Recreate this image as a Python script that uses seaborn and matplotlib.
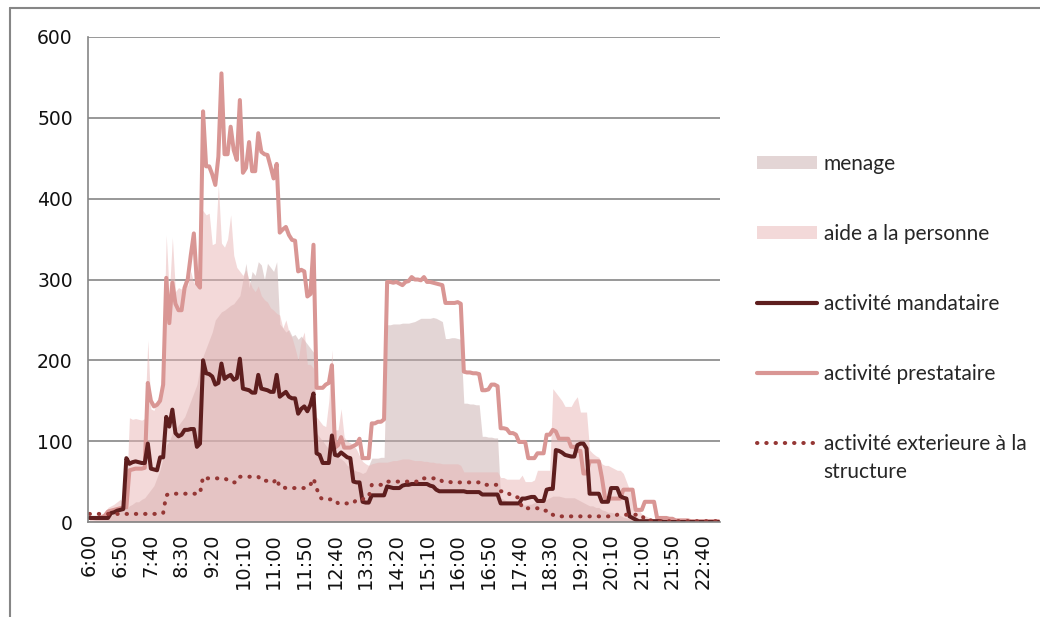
import pandas as pd
import matplotlib
matplotlib.use("Agg")
import matplotlib.pyplot as plt
import seaborn as sns
from matplotlib.lines import Line2D
from matplotlib.patches import Patch

# 5 minute slots, 6:00 -> 23:05
times = [f"{(360 + 5 * k) // 60}:{(360 + 5 * k) % 60:02d}" for k in range(206)]

menage = [2, 2, 3, 3, 4, 5, 6, 8, 10, 12, 14, 15, 16,
          20, 22, 25, 25, 28, 30,
          35, 40, 45, 55, 65, 80,
          95, 100, 110, 115, 120, 125, 130, 140, 150, 160, 170, 190,
          205, 215, 225, 235, 250, 255, 260, 262, 265, 268, 270, 275,
          280, 300, 320, 290, 310, 305, 322, 318, 300, 320, 315, 310, 322,
          245, 240, 235, 238, 230, 232, 226, 230, 225, 220, 215, 210,
          110, 105, 100, 95, 90, 90, 85, 80, 78, 75, 70, 68,
          65, 63, 62, 60, 62, 70, 79, 79, 79, 80, 80,
          244, 244, 245, 245, 245, 246, 246, 246, 247, 248, 250, 252, 252,
          252, 252, 253, 252, 250, 248, 227, 227, 228, 228, 227, 226,
          147, 147, 146, 146, 145, 145, 106, 106, 105, 105, 104, 104,
          30, 28, 26, 25, 22, 22, 21, 21, 21, 22, 22, 24,
          25, 26, 28, 28, 30, 32, 32, 32, 31, 30, 30, 30,
          30, 28, 26, 24, 22, 20, 20, 18, 18, 15, 14, 12,
          12, 11, 10, 8, 6, 5, 4, 3, 2, 1, 1, 0,
          0, 0, 0, 0, 0, 0, 0, 0, 0, 0, 0, 0,
          0, 0, 0, 0, 0, 0, 0, 0, 0, 0, 0, 0]

aide = [3, 3, 4, 5, 8, 10,
        18, 20, 22, 25, 28, 25, 30,
        129, 127, 128, 127, 126, 128,
        225, 140, 138, 150, 160, 200,
        355, 281, 352, 285, 290, 288, 300, 292, 310, 295, 300, 386,
        385, 380, 382, 343, 345, 417, 345, 340, 350, 380, 330, 315,
        310, 305, 312, 300, 290, 285, 292, 280, 275, 272, 265, 262, 258,
        256, 240, 250, 235, 228, 215, 200, 225, 235, 195, 195, 190,
        130, 125, 120, 118, 150, 213, 114, 114, 140, 105, 100, 98,
        95, 90, 82, 75, 72, 70, 72, 73, 74, 74, 74,
        74, 75, 76, 76, 77, 78, 78, 78, 77, 76, 76, 76, 75,
        75, 74, 74, 73, 73, 72, 72, 72, 72, 72, 72, 70,
        62, 62, 62, 62, 62, 62, 62, 62, 62, 62, 62, 62,
        55, 55, 53, 53, 53, 53, 53, 58, 50, 50, 50, 52,
        64, 64, 64, 64, 64, 165, 160, 155, 150, 143, 143, 143,
        150, 155, 136, 136, 136, 89, 85, 82, 80, 72, 70, 70,
        68, 66, 64, 64, 60, 50, 40, 30, 20, 15, 10, 8,
        6, 5, 4, 3, 2, 2, 2, 1, 1, 1, 1, 1,
        0, 0, 0, 0, 0, 0, 0, 0, 0, 0, 0, 0]

mandataire = [5, 5, 5, 5, 5, 5, 5,
              11, 12, 14, 15, 16, 79,
              72, 74, 75, 74, 73, 73,
              97, 66, 65, 64, 80, 80,
              130, 118, 139, 110, 106, 108, 114, 114, 115, 115, 93, 97,
              200, 184, 183, 180, 170, 172, 196, 177, 180, 182, 176, 178,
              202, 165, 164, 163, 160, 160, 182, 165, 164, 163, 161, 161, 182,
              155, 158, 161, 155, 153, 153, 134, 140, 143, 137, 145, 159,
              85, 83, 73, 73, 73, 107, 83, 82, 86, 83, 80, 79,
              50, 49, 49, 25, 24, 24, 33, 33, 33, 33, 33,
              44, 43, 42, 42, 42, 45, 46, 46, 47, 47, 47, 47, 47,
              47, 45, 44, 40, 38, 38, 38, 38, 38, 38, 38, 38,
              38, 37, 37, 37, 37, 37, 34, 34, 34, 34, 34, 34,
              23, 23, 23, 23, 23, 23, 23, 29, 29, 30, 31, 31,
              26, 26, 26, 40, 41, 41, 89, 88, 86, 83, 82, 81,
              81, 95, 97, 97, 91, 35, 35, 35, 35, 25, 25, 25,
              42, 42, 42, 32, 30, 29, 7, 5, 3, 1, 1, 1,
              1, 1, 1, 1, 1, 0, 0, 0, 0, 0, 0, 0,
              0, 0, 0, 0, 0, 0, 0, 0, 0, 0, 0, 0]

prestataire = [5, 5, 5, 5, 6, 8,
               13, 14, 15, 16, 17, 18, 18,
               64, 65, 66, 66, 66, 67,
               172, 150, 143, 145, 150, 170,
               302, 246, 296, 270, 262, 262, 290, 300, 330, 357, 295, 290,
               508, 440, 440, 430, 417, 452, 555, 455, 455, 489, 460, 448,
               522, 432, 438, 470, 434, 434, 481, 458, 455, 454, 440, 425, 443,
               358, 362, 365, 355, 349, 348, 310, 312, 310, 279, 282, 343,
               166, 166, 166, 170, 172, 194, 92, 95, 105, 92, 92, 92,
               94, 96, 103, 79, 79, 79, 122, 122, 124, 124, 127,
               297, 297, 296, 297, 295, 293, 297, 298, 303, 300, 300, 299, 303,
               297, 297, 296, 295, 294, 293, 271, 271, 271, 271, 272, 270,
               186, 185, 185, 184, 184, 183, 163, 163, 164, 170, 170, 168,
               116, 116, 115, 110, 110, 108, 99, 99, 99, 79, 79, 79,
               85, 85, 85, 108, 108, 114, 112, 103, 103, 103, 103, 93,
               93, 88, 88, 60, 60, 75, 75, 75, 75, 55, 30, 29,
               29, 29, 29, 29, 40, 40, 40, 40, 15, 15, 15, 25,
               25, 25, 25, 5, 5, 5, 5, 4, 4, 2, 2, 2,
               2, 2, 1, 1, 1, 1, 1, 1, 1, 1, 1, 1]

exterieure = [10, 10, 10, 10, 10, 10, 10, 10, 10, 10, 10, 10,
              10, 10, 10, 10, 10, 10, 10, 10, 10, 10, 10, 10, 11,
              33, 35, 35, 35, 35, 35, 35, 35, 35, 35, 35, 35,
              56, 54, 54, 54, 54, 54, 54, 54, 52, 49, 49, 49,
              56, 56, 56, 56, 56, 56, 56, 51, 51, 51, 49, 49, 54,
              43, 43, 42, 42, 42, 42, 42, 42, 42, 42, 46, 54,
              42, 31, 28, 28, 28, 28, 28, 23, 23, 23, 23, 23,
              23, 28, 28, 28, 31, 31, 46, 46, 46, 46, 46,
              50, 50, 50, 50, 50, 50, 50, 50, 50, 50, 50, 50, 54,
              54, 54, 54, 54, 54, 50, 50, 50, 49, 49, 49, 49,
              49, 49, 49, 49, 49, 49, 49, 46, 46, 46, 46, 46,
              38, 38, 38, 34, 34, 31, 30, 17, 17, 17, 17, 17,
              17, 14, 14, 14, 9, 9, 7, 7, 7, 7, 7, 7,
              7, 7, 7, 7, 7, 7, 7, 7, 7, 7, 7, 7,
              7, 7, 9, 9, 9, 9, 9, 9, 9, 9, 9, 2,
              2, 2, 1, 1, 1, 1, 1, 1, 1, 1, 1, 1,
              1, 1, 1, 1, 1, 1, 1, 1, 1, 1, 1, 1]

df = pd.DataFrame({"slot": range(len(times)), "heure": times,
                   "menage": menage, "aide": aide, "mandataire": mandataire,
                   "prestataire": prestataire, "exterieure": exterieure})

sns.set_style("white")
plt.rcParams["font.family"] = ["DejaVu Sans"]

grey = "#868686"
c_menage = "#c9adad"
c_aide = "#e8b4b4"
c_manda = "#5e1e1e"
c_presta = "#d99694"
c_ext = "#953735"
dots = (0, (0.1, 2.2))

fig = plt.figure(figsize=(10.4, 6.17), dpi=100)
ax = fig.add_axes([88 / 1040, 1 - 522 / 617, (720 - 88) / 1040, (522 - 37) / 617])

# areas (overlapping, semi transparent)
ax.fill_between(df["slot"], df["menage"], color=c_menage, alpha=0.5, lw=0)
ax.fill_between(df["slot"], df["aide"], color=c_aide, alpha=0.5, lw=0)

# lines
sns.lineplot(data=df, x="slot", y="prestataire", ax=ax, color=c_presta, lw=2.9)
sns.lineplot(data=df, x="slot", y="mandataire", ax=ax, color=c_manda, lw=2.9)
sns.lineplot(data=df, x="slot", y="exterieure", ax=ax, color=c_ext, lw=2.9,
             linestyle=dots, dash_capstyle="round")

ax.set_xlim(-0.5, len(times) - 0.5)
ax.set_ylim(0, 600)
ax.set_yticks(range(0, 601, 100))
ax.set_xticks(range(0, len(times), 10))
ax.set_xticklabels(times[::10], rotation=90)
ax.set_xticks([k - 0.5 for k in range(len(times) + 1)], minor=True)
ax.tick_params(axis="x", which="major", length=0, pad=8, labelsize=14,
               labelcolor="#111111")
ax.tick_params(axis="x", which="minor", length=6, color=grey, width=0.8)
ax.tick_params(axis="y", length=5, color=grey, width=1, pad=6, labelsize=13.5,
               labelcolor="#111111")
ax.set_xlabel("")
ax.set_ylabel("")

ax.set_axisbelow(True)
ax.yaxis.grid(True, color=grey, lw=1.2)
for side in ["top", "right"]:
    ax.spines[side].set_visible(False)
for side in ["left", "bottom"]:
    ax.spines[side].set_color(grey)
    ax.spines[side].set_linewidth(1.2)

handles = [Patch(fc=c_menage, alpha=0.5, lw=0),
           Patch(fc=c_aide, alpha=0.5, lw=0),
           Line2D([], [], color=c_manda, lw=3),
           Line2D([], [], color=c_presta, lw=3),
           Line2D([], [], color=c_ext, lw=2.9, linestyle=dots,
                  dash_capstyle="round")]
labels = ["menage", "aide a la personne", "activité mandataire",
          "activité prestataire", "activité exterieure à la"]
leg = fig.legend(handles, labels, loc="upper left",
                 bbox_to_anchor=(757 / 1040, 1 - 153.5 / 617), frameon=False,
                 borderpad=0, borderaxespad=0, handlelength=2.9,
                 handleheight=0.6, handletextpad=0.3, labelspacing=2.4,
                 prop={"family": "Lato", "size": 15})

# second line of the last legend label
fig.canvas.draw()
bb = leg.get_texts()[-1].get_window_extent()
fig.text(bb.x0, bb.y0 - 28, "structure", transform=None, va="bottom",
         ha="left", family="Lato", fontsize=15)

# outer frame
fig.add_artist(Line2D([10 / 1040, 10 / 1040], [0, 1 - 8 / 617],
                      transform=fig.transFigure, color=grey, lw=1.5))
fig.add_artist(Line2D([10 / 1040, 1], [1 - 8 / 617, 1 - 8 / 617],
                      transform=fig.transFigure, color=grey, lw=1.5))

fig.savefig("out.png", dpi=100)
